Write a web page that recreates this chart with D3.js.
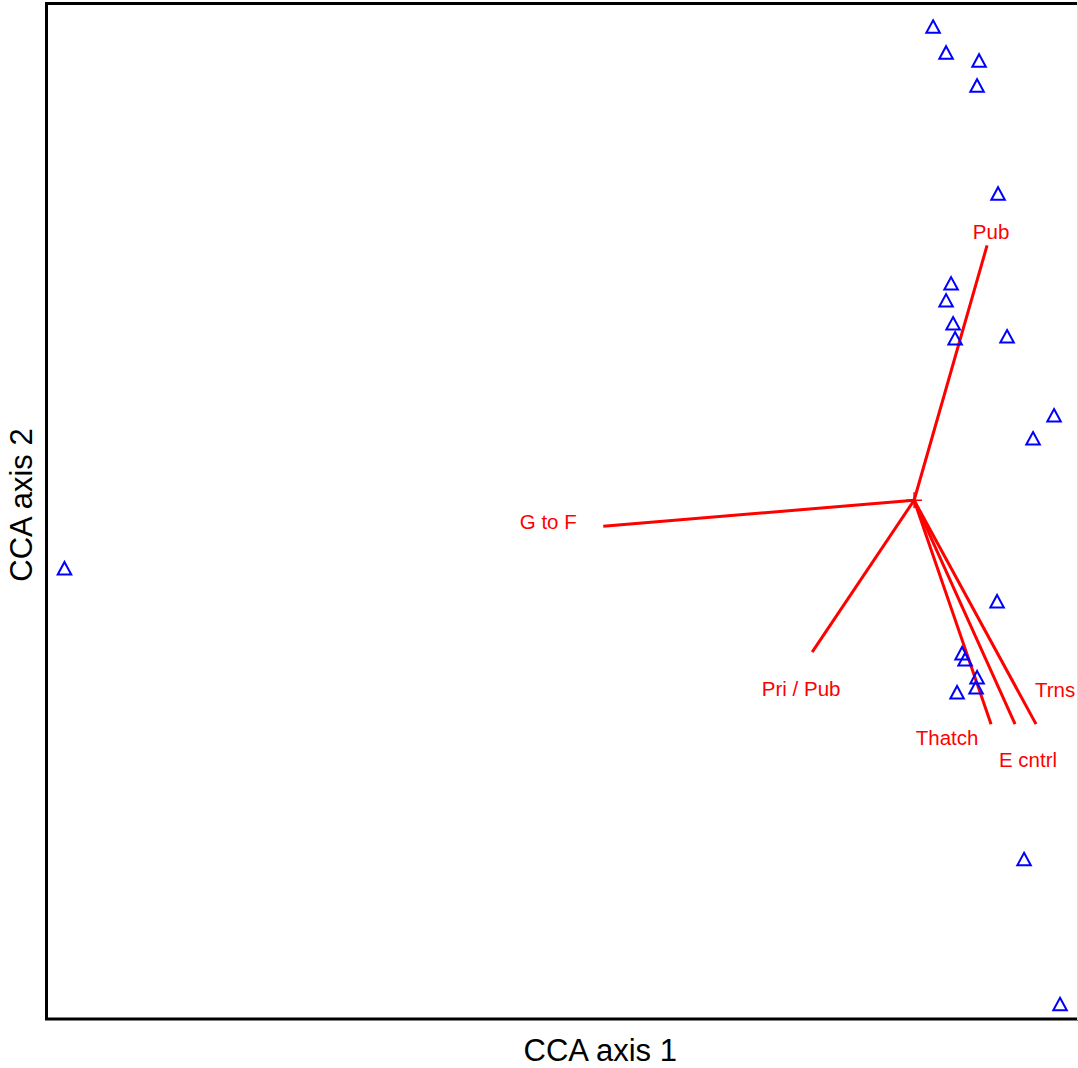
<!DOCTYPE html>
<html>
<head>
<meta charset="utf-8">
<script src="https://cdnjs.cloudflare.com/ajax/libs/d3/7.8.5/d3.min.js"></script>
<style>
	html, body { margin: 0; padding: 0; background: #ffffff; overflow: hidden; }
	svg { display: block; font-family: "Liberation Sans", Arial, sans-serif; }
</style>
</head>
<body>
<div id="graph"></div>
<script>
// site scores (CCA axis 1, CCA axis 2)
var siteX = [0.095, 0.16, 0.325, 0.315, 0.42, 0.185, 0.16, 0.195, 0.205, 0.465,
	0.70, 0.595, 0.415, 0.24, 0.255, 0.315, 0.31, 0.215, 0.55, 0.73, -4.25];
var siteY = [2.37, 2.24, 2.20, 2.075, 1.535, 1.085, 1.0, 0.885, 0.81, 0.82,
	0.425, 0.31, -0.505, -0.765, -0.795, -0.885, -0.935, -0.96, -1.795, -2.52, -0.34];

// biplot arrows for the environmental variables
var envNames = ["Pub", "G to F", "Pri / Pub", "Thatch", "E cntrl", "Trns"];
var envX = [0.365, -1.555, -0.51, 0.385, 0.505, 0.61];
var envY = [1.275, -0.13, -0.76, -1.12, -1.12, -1.12];
// where the labels sit
var labelX = [0.385, -1.83, -0.565, 0.165, 0.57, 0.705];
var labelY = [1.345, -0.105, -0.94, -1.185, -1.295, -0.945];

var xTitle = "CCA axis 1";
var yTitle = "CCA axis 2";

function drawGraph() {
	var width = 1078, height = 1068;
	var left = 46.5, right = 1154, top = 3.5, bottom = 1019;

	var svg = d3.select("#graph").append("svg")
		.attr("width", width)
		.attr("height", height);

	var x = d3.scaleLinear().domain([-4.34, 1.2]).range([left, right]);
	var y = d3.scaleLinear().domain([-2.595, 2.485]).range([bottom, top]);

	// biplot lines
	svg.selectAll("line.env").data(envNames)
		.enter().append("line")
		.attr("class", "env")
		.attr("x1", x(0))
		.attr("y1", y(0))
		.attr("x2", function (d, i) { return x(envX[i]); })
		.attr("y2", function (d, i) { return y(envY[i]); })
		.attr("stroke", "#ff0000")
		.attr("stroke-width", 3);

	// centroid cross
	svg.append("path")
		.attr("d", "M" + (x(0) - 8) + "," + y(0) + "H" + (x(0) + 8) +
			"M" + x(0) + "," + (y(0) - 8) + "V" + (y(0) + 8))
		.attr("stroke", "#ff0000")
		.attr("stroke-width", 1.5)
		.attr("fill", "none");

	svg.selectAll("text.env").data(envNames)
		.enter().append("text")
		.attr("class", "env")
		.attr("text-anchor", "middle")
		.attr("x", function (d, i) { return x(labelX[i]); })
		.attr("y", function (d, i) { return y(labelY[i]); })
		.attr("dy", "0.36em")
		.attr("font-size", "20.5px")
		.attr("fill", "#ff0000")
		.text(function (d) { return d; });

	// site triangles (open, pch 2 style)
	var tw = 13.5, th = 12.5;
	var tri = "M0," + (-th / 2) + "L" + (tw / 2) + "," + (th / 2) + "L" + (-tw / 2) + "," + (th / 2) + "Z";
	svg.selectAll("path.site").data(siteX)
		.enter().append("path")
		.attr("class", "site")
		.attr("d", tri)
		.attr("transform", function (d, i) {
			return "translate(" + x(siteX[i]) + "," + y(siteY[i]) + ")";
		})
		.attr("fill", "none")
		.attr("stroke", "#0000ff")
		.attr("stroke-width", 2);

	// frame (right side runs past the picture edge)
	svg.append("path")
		.attr("d", "M" + right + "," + top + "H" + left + "V" + bottom + "H" + right)
		.attr("fill", "none")
		.attr("stroke", "#000000")
		.attr("stroke-width", 3);
	svg.append("line")
		.attr("x1", width - 0.5).attr("x2", width - 0.5)
		.attr("y1", 0).attr("y2", height - 48)
		.attr("stroke", "#dddddd")
		.attr("stroke-width", 1);

	// axis titles
	svg.append("text")
		.attr("text-anchor", "middle")
		.attr("x", (left + right) / 2)
		.attr("y", 1061)
		.attr("font-size", "31px")
		.attr("fill", "#000000")
		.text(xTitle);
	svg.append("text")
		.attr("text-anchor", "middle")
		.attr("transform", "translate(32,505) rotate(-90)")
		.attr("font-size", "31px")
		.attr("fill", "#000000")
		.text(yTitle);
}

drawGraph();
</script>
</body>
</html>
